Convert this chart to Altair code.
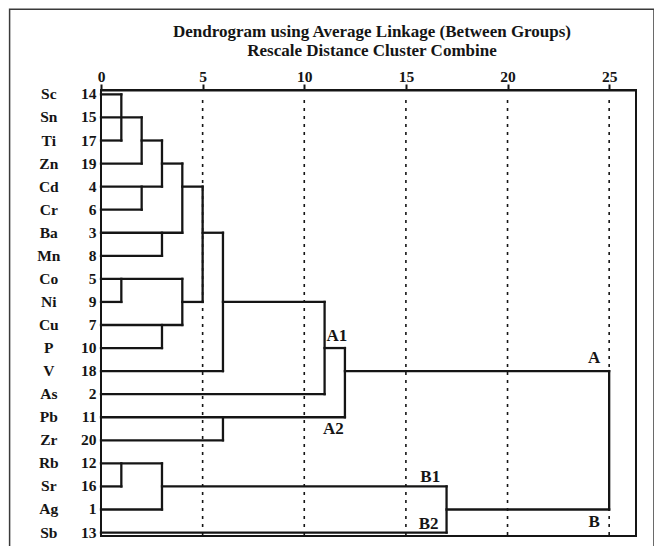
import altair as alt
import pandas as pd

# ---- data ----
symbols = ["Sc", "Sn", "Ti", "Zn", "Cd", "Cr", "Ba", "Mn", "Co", "Ni",
           "Cu", "P", "V", "As", "Pb", "Zr", "Rb", "Sr", "Ag", "Sb"]
case_ids = [14, 15, 17, 19, 4, 6, 3, 8, 5, 9, 7, 10, 18, 2, 11, 20, 12, 16, 1, 13]

# horizontal dendrogram segments: row, from distance, to distance
h_row = [0, 1, 2, 2, 3, 3, 4, 4, 5, 6, 6, 7, 8, 9, 9, 9, 10, 11, 11, 12, 12,
         13, 14, 15, 16, 17, 17, 18, 18, 19]
h_from = [0, 0, 0, 2, 0, 3, 0, 4, 0, 0, 5, 0, 0, 0, 4, 6, 0, 0, 11, 0, 12,
          0, 0, 0, 0, 0, 3, 0, 17, 0]
h_to = [1, 2, 1, 3, 2, 4, 3, 5, 2, 4, 6, 3, 4, 1, 5, 11, 4, 3, 12, 6, 25,
        11, 12, 6, 3, 1, 17, 3, 25, 17]

# vertical (merge) segments: distance, first row, last row
v_dist = [1, 2, 3, 2, 4, 3, 5, 1, 4, 3, 6, 11, 6, 12, 1, 3, 17, 25]
v_top = [0, 1, 2, 4, 3, 6, 4, 8, 8, 10, 6, 9, 14, 11, 16, 16, 17, 12]
v_bot = [2, 3, 4, 5, 6, 7, 9, 9, 10, 11, 12, 13, 15, 14, 17, 18, 19, 18]

# cluster annotations
ann_text = ["A1", "A2", "A", "B1", "B2", "B"]
ann_dist = [11.6, 11.43, 24.26, 16.2, 16.12, 24.26]
ann_row = [10.7, 14.73, 11.66, 16.83, 18.85, 18.75]

grid_values = [5, 10, 15, 20, 25]
tick_values = [0, 5, 10, 15, 20, 25]

title_lines = ["Dendrogram using Average Linkage (Between Groups)",
               "Rescale Distance Cluster Combine"]

# ---- tables ----
leaves = pd.DataFrame({"symbol": symbols, "case": [str(c) for c in case_ids],
                       "row": list(range(len(symbols)))})
hseg = pd.DataFrame({"row": h_row, "d0": h_from, "d1": h_to})
vseg = pd.DataFrame({"d": v_dist, "r0": v_top, "r1": v_bot})
ann = pd.DataFrame({"label": ann_text, "d": ann_dist, "row": ann_row})
grid = pd.DataFrame({"d": grid_values})
titles = pd.DataFrame({"t": title_lines})

FONT = "Liberation Serif"
INK = "#151515"

xs = alt.Scale(domain=[0, 26.32], nice=False, zero=False)
ys = alt.Scale(domain=[-0.19, 19.15], reverse=True, nice=False, zero=False)
xaxis = alt.Axis(
    orient="top", values=tick_values, title=None, grid=False,
    domainColor=INK, domainWidth=2, tickColor=INK, tickWidth=2, tickSize=6,
    labelFont=FONT, labelFontWeight="bold", labelFontSize=15.5,
    labelColor=INK, labelPadding=0, labelFlush=False, format="d")

border = alt.Chart(pd.DataFrame({"a": [0]})).mark_rect(
    fillOpacity=0, stroke="#3a3a3a", strokeWidth=1.5
).encode(x=alt.value(-91.4), x2=alt.value(553), y=alt.value(-80.7), y2=alt.value(480))

frame = alt.Chart(pd.DataFrame({"a": [0]})).mark_rect(
    fillOpacity=0, stroke=INK, strokeWidth=2
).encode(x=alt.value(0), x2=alt.value(535), y=alt.value(0), y2=alt.value(446))

title_layer = alt.Chart(titles).transform_window(
    idx="row_number()"
).mark_text(
    font=FONT, fontWeight="bold", fontSize=17, color=INK,
    align="center", baseline="alphabetic"
).encode(
    x=alt.value(271),
    y=alt.Y("idx:Q", scale=alt.Scale(domain=[1, 2], range=[-53.5, -34]), axis=None),
    text="t:N"
)

gridlines = alt.Chart(grid).mark_rule(
    color=INK, strokeWidth=1.6, strokeDash=[3, 5]
).encode(
    x=alt.X("d:Q", scale=xs, axis=xaxis),
    y=alt.value(10), y2=alt.value(446)
)

hlines = alt.Chart(hseg).mark_rule(
    color=INK, strokeWidth=2.3, strokeCap="square"
).encode(
    x=alt.X("d0:Q", scale=xs, axis=xaxis),
    x2="d1:Q",
    y=alt.Y("row:Q", scale=ys, axis=None)
)

vlines = alt.Chart(vseg).mark_rule(
    color=INK, strokeWidth=2.3, strokeCap="square"
).encode(
    x=alt.X("d:Q", scale=xs, axis=xaxis),
    y=alt.Y("r0:Q", scale=ys, axis=None),
    y2="r1:Q"
)

sym_text = alt.Chart(leaves).mark_text(
    font=FONT, fontWeight="bold", fontSize=15.5, color=INK,
    align="center", baseline="middle"
).encode(x=alt.value(-52.2), y=alt.Y("row:Q", scale=ys, axis=None), text="symbol:N")

id_text = alt.Chart(leaves).mark_text(
    font=FONT, fontWeight="bold", fontSize=15.5, color=INK,
    align="right", baseline="middle"
).encode(x=alt.value(-4.5), y=alt.Y("row:Q", scale=ys, axis=None), text="case:N")

ann_text_layer = alt.Chart(ann).mark_text(
    font=FONT, fontWeight="bold", fontSize=17, color=INK,
    align="center", baseline="alphabetic"
).encode(
    x=alt.X("d:Q", scale=xs, axis=xaxis),
    y=alt.Y("row:Q", scale=ys, axis=None),
    text="label:N"
)

chart = alt.layer(
    border, frame, gridlines, hlines, vlines, sym_text, id_text, ann_text_layer,
    title_layer
).resolve_scale(
    y="independent"
).properties(
    width=535, height=446,
    padding={"left": 93, "top": 82, "right": 18, "bottom": 10},
    autosize=alt.AutoSizeParams(type="none"),
    background="white"
).configure_view(
    stroke=None
)

chart.save("out.html", embed_options={"renderer": "svg", "actions": False})
